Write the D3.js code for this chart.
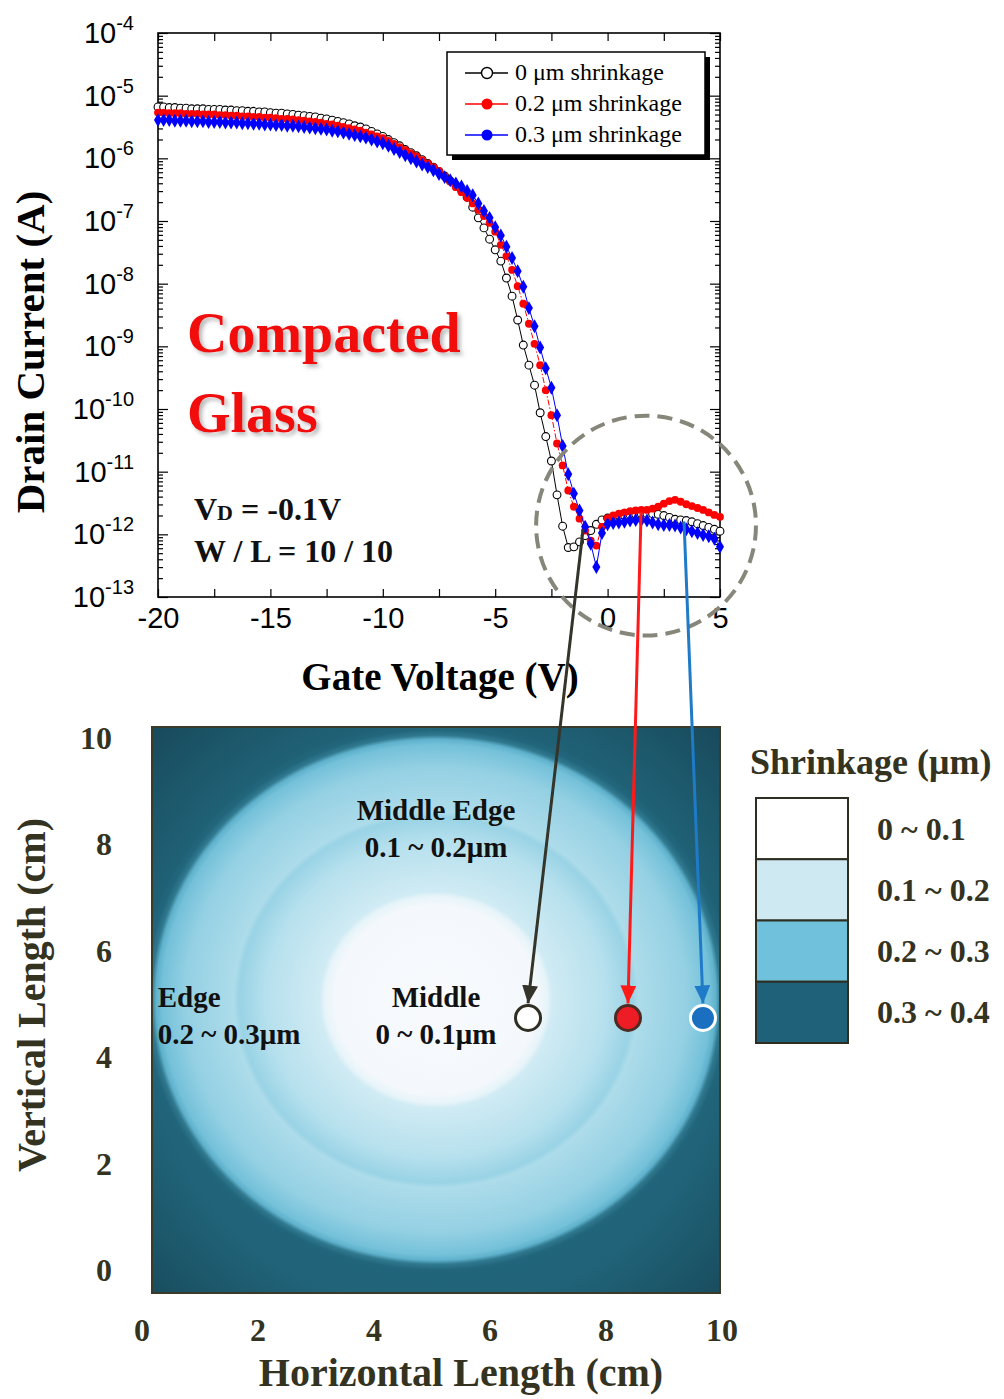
<!DOCTYPE html>
<html>
<head>
<meta charset="utf-8">
<script src="https://cdn.jsdelivr.net/npm/d3@7"></script>
<style>
  html, body { margin: 0; padding: 0; background: #fff; }
  svg { display: block; }
</style>
</head>
<body>
<svg id="fig" width="1004" height="1399"></svg>
<script>
// ---------------- transfer curves (Id–Vg) ----------------
const gateVoltage = [
  -20, -19.75, -19.5, -19.25, -19, -18.75, -18.5, -18.25, -18, -17.75,
  -17.5, -17.25, -17, -16.75, -16.5, -16.25, -16, -15.75, -15.5, -15.25,
  -15, -14.75, -14.5, -14.25, -14, -13.75, -13.5, -13.25, -13, -12.75,
  -12.5, -12.25, -12, -11.75, -11.5, -11.25, -11, -10.75, -10.5, -10.25,
  -10, -9.75, -9.5, -9.25, -9, -8.75, -8.5, -8.25, -8, -7.75,
  -7.5, -7.25, -7, -6.75, -6.5, -6.25, -6, -5.75, -5.5, -5.25,
  -5, -4.75, -4.5, -4.25, -4, -3.75, -3.5, -3.25, -3, -2.75,
  -2.5, -2.25, -2, -1.75, -1.5, -1.25, -1, -0.75, -0.5, -0.25,
  0, 0.25, 0.5, 0.75, 1, 1.25, 1.5, 1.75, 2, 2.25,
  2.5, 2.75, 3, 3.25, 3.5, 3.75, 4, 4.25, 4.5, 4.75, 5
];

// log10 of drain current (A)
const logIdShrink0 = [
  -5.18, -5.18, -5.19, -5.19, -5.20, -5.20, -5.21, -5.21, -5.21, -5.22,
  -5.22, -5.22, -5.23, -5.23, -5.24, -5.24, -5.25, -5.25, -5.26, -5.26,
  -5.27, -5.28, -5.28, -5.29, -5.30, -5.31, -5.32, -5.33, -5.34, -5.36,
  -5.37, -5.39, -5.41, -5.43, -5.45, -5.48, -5.50, -5.53, -5.57, -5.61,
  -5.65, -5.70, -5.75, -5.80, -5.86, -5.91, -5.96, -6.02, -6.08, -6.14,
  -6.21, -6.28, -6.36, -6.43, -6.51, -6.62, -6.78, -6.95, -7.11, -7.29,
  -7.46, -7.64, -7.91, -8.20, -8.58, -8.98, -9.30, -9.62, -10.06, -10.44,
  -10.83, -11.37, -11.87, -12.21, -12.20, -12.12, -12.02, -11.94, -11.84, -11.77,
  -11.74, -11.72, -11.70, -11.70, -11.69, -11.68, -11.67, -11.67, -11.67, -11.68,
  -11.70, -11.73, -11.76, -11.77, -11.78, -11.80, -11.83, -11.86, -11.89, -11.92, -11.95
];
const logIdShrink02 = [
  -5.27, -5.27, -5.28, -5.28, -5.28, -5.29, -5.29, -5.29, -5.30, -5.30,
  -5.30, -5.31, -5.31, -5.32, -5.32, -5.33, -5.33, -5.34, -5.34, -5.35,
  -5.35, -5.36, -5.37, -5.37, -5.38, -5.39, -5.40, -5.41, -5.42, -5.43,
  -5.45, -5.46, -5.48, -5.50, -5.52, -5.54, -5.56, -5.59, -5.62, -5.65,
  -5.68, -5.72, -5.77, -5.82, -5.87, -5.92, -5.97, -6.03, -6.08, -6.14,
  -6.20, -6.29, -6.37, -6.46, -6.54, -6.63, -6.72, -6.82, -6.92, -7.03,
  -7.17, -7.38, -7.56, -7.78, -8.04, -8.32, -8.64, -8.96, -9.30, -9.70,
  -10.10, -10.55, -10.90, -11.30, -11.56, -11.75, -11.94, -12.10, -12.18, -11.88,
  -11.74, -11.70, -11.67, -11.65, -11.63, -11.62, -11.61, -11.61, -11.59, -11.56,
  -11.51, -11.47, -11.45, -11.48, -11.52, -11.55, -11.58, -11.61, -11.65, -11.69, -11.72
];
const logIdShrink03 = [
  -5.39, -5.39, -5.39, -5.40, -5.40, -5.40, -5.41, -5.41, -5.41, -5.42,
  -5.42, -5.42, -5.43, -5.43, -5.43, -5.44, -5.44, -5.45, -5.45, -5.46,
  -5.46, -5.47, -5.47, -5.48, -5.48, -5.49, -5.50, -5.51, -5.52, -5.53,
  -5.54, -5.56, -5.57, -5.59, -5.61, -5.63, -5.65, -5.67, -5.70, -5.73,
  -5.76, -5.80, -5.85, -5.90, -5.95, -6.00, -6.05, -6.10, -6.14, -6.19,
  -6.25, -6.30, -6.35, -6.40, -6.45, -6.52, -6.59, -6.72, -6.84, -6.95,
  -7.10, -7.23, -7.41, -7.59, -7.80, -8.05, -8.39, -8.68, -9.02, -9.35,
  -9.66, -10.10, -10.59, -11.04, -11.35, -11.62, -11.88, -12.15, -12.52, -11.98,
  -11.84, -11.82, -11.81, -11.80, -11.78, -11.77, -11.77, -11.78, -11.81, -11.84,
  -11.85, -11.85, -11.86, -11.89, -11.92, -11.95, -11.98, -12.01, -12.03, -12.07, -12.20
];

const seriesNames = ["0 μm shrinkage", "0.2 μm shrinkage", "0.3 μm shrinkage"];
const currentDecades = [-13, -12, -11, -10, -9, -8, -7, -6, -5, -4];
const voltageTicks = [-20, -17.5, -15, -12.5, -10, -7.5, -5, -2.5, 0, 2.5, 5];
const voltageLabels = [-20, -15, -10, -5, 0, 5];

// ---------------- glass shrinkage map ----------------
const lengthTicks = [0, 2, 4, 6, 8, 10];
const waferCenterCm = [5.0, 5.18];
const zoneRadiiCm = [1.99, 3.52, 4.93];     // Middle | Middle Edge | Edge boundaries
const shrinkBins = ["0 ~ 0.1", "0.1 ~ 0.2", "0.2 ~ 0.3", "0.3 ~ 0.4"];
const zoneNames = [
  { title: "Middle Edge", range: "0.1 ~ 0.2μm", h: 5.0, v: 8.35, anchor: "middle" },
  { title: "Edge", range: "0.2 ~ 0.3μm", h: 0.1, v: 5.05, anchor: "start" },
  { title: "Middle", range: "0 ~ 0.1μm", h: 5.0, v: 5.05, anchor: "middle" }
];
// measured devices: point picked on the Id–Vg curve and its position on the glass
const probeSites = [
  { V: -1.09, I: 1.2e-12, h: 6.62, v: 4.86 },
  { V: 1.49, I: 2.3e-12, h: 8.38, v: 4.86 },
  { V: 3.40, I: 1.6e-12, h: 9.70, v: 4.86 }
];
const offRegion = { V: 1.71, I: 1.38e-12, radiusV: 4.89 };

// ---------------- styles ----------------
const SERIF = "'Liberation Serif','Times New Roman',serif";
const SANS = "'Liberation Sans',Arial,sans-serif";
const INK = "#33331f";
const seriesStyle = [
  { stroke: "#000", fill: "#fff", symbol: d3.symbolCircle, dash: null, mstroke: "#000" },
  { stroke: "#ff0000", fill: "#ff0000", symbol: d3.symbolCircle, dash: "6,2,1.5,2", mstroke: "none" },
  { stroke: "#0000ff", fill: "#0000ff", symbol: d3.symbolDiamond, dash: null, mstroke: "none" }
];
const probeStyle = [
  { line: "#34342a", fill: "#ffffff", stroke: "#2e2e22" },
  { line: "#ff1a1a", fill: "#ee1c24", stroke: "#4d2b22" },
  { line: "#1f7bc7", fill: "#1b6fc0", stroke: "#ffffff" }
];

const svg = d3.select("#fig");
const defs = svg.append("defs");

// ================= Id–Vg panel =================
const x = d3.scaleLinear().domain([-20, 5]).range([158, 720]);
const y = d3.scaleLog().domain([1e-13, 1e-4]).range([597, 33]);
const pTop = svg.append("g");

const minorCurrent = [];
currentDecades.slice(0, -1).forEach(e => {
  for (let m = 2; m <= 9; m++) minorCurrent.push(m * Math.pow(10, e));
});
const majorCurrent = currentDecades.map(e => Math.pow(10, e));

const tickStyle = g => {
  g.select(".domain").remove();
  g.selectAll(".tick line").attr("stroke", "#000").attr("stroke-width", 1.2);
};
[[d3.axisLeft, x(-20)], [d3.axisRight, x(5)]].forEach(([ax, px]) => {
  pTop.append("g").attr("transform", `translate(${px},0)`)
    .call(ax(y).tickValues(minorCurrent).tickSize(-5).tickFormat(""))
    .call(tickStyle);
  pTop.append("g").attr("transform", `translate(${px},0)`)
    .call(ax(y).tickValues(majorCurrent).tickSize(-10).tickFormat(""))
    .call(tickStyle);
});
pTop.append("g").attr("transform", `translate(0,${y(1e-4)})`)
  .call(d3.axisTop(x).tickValues(voltageTicks).tickSize(-8).tickFormat(""))
  .call(tickStyle);
const xAxisG = pTop.append("g").attr("transform", `translate(0,${y(1e-13)})`)
  .call(d3.axisBottom(x).tickValues(voltageTicks).tickSize(-8).tickPadding(10)
    .tickFormat(d => voltageLabels.includes(d) ? String(d) : ""))
  .call(tickStyle);
xAxisG.selectAll(".tick text")
  .attr("font-family", SANS).attr("font-size", 29).attr("fill", "#000");

// decade labels 10^n
majorCurrent.forEach((v, i) => {
  const t = pTop.append("text")
    .attr("x", 134).attr("y", y(v) + 10)
    .attr("text-anchor", "end")
    .attr("font-family", SANS).attr("fill", "#000");
  t.append("tspan").attr("font-size", 29).text("10");
  t.append("tspan").attr("font-size", 20).attr("dy", -13).text(String(currentDecades[i]));
});

// frame
pTop.append("rect")
  .attr("x", x(-20)).attr("y", y(1e-4))
  .attr("width", x(5) - x(-20)).attr("height", y(1e-13) - y(1e-4))
  .attr("fill", "none").attr("stroke", "#000").attr("stroke-width", 1.6);

// curves
const allSeries = [logIdShrink0, logIdShrink02, logIdShrink03];
const line = d3.line().x(d => x(d[0])).y(d => y(d[1]));
allSeries.forEach((vals, si) => {
  const st = seriesStyle[si];
  const pts = gateVoltage.map((v, i) => [v, Math.pow(10, vals[i])]);
  const g = pTop.append("g");
  g.append("path").attr("d", line(pts))
    .attr("fill", "none").attr("stroke", st.stroke).attr("stroke-width", 1)
    .attr("stroke-dasharray", st.dash);
  g.selectAll("path.m").data(pts).join("path").attr("class", "m")
    .attr("transform", d => `translate(${x(d[0])},${y(d[1])})`)
    .attr("d", d3.symbol(st.symbol, si === 2 ? 56 : 48))
    .attr("fill", st.fill).attr("stroke", st.mstroke).attr("stroke-width", 1.1);
});

// legend
const lg = pTop.append("g").attr("transform", "translate(447,52)");
lg.append("rect").attr("x", 5).attr("y", 5).attr("width", 258).attr("height", 103).attr("fill", "#000");
lg.append("rect").attr("width", 258).attr("height", 103).attr("fill", "#fff")
  .attr("stroke", "#000").attr("stroke-width", 1.5);
seriesNames.forEach((name, i) => {
  const st = seriesStyle[i];
  const ry = 21 + i * 31;
  lg.append("line").attr("x1", 18).attr("x2", 61).attr("y1", ry).attr("y2", ry)
    .attr("stroke", st.stroke).attr("stroke-width", 1.4);
  lg.append("path").attr("transform", `translate(40,${ry})`)
    .attr("d", d3.symbol(d3.symbolCircle, 95))
    .attr("fill", st.fill).attr("stroke", st.mstroke).attr("stroke-width", 1.4);
  lg.append("text").attr("x", 68).attr("y", ry + 7)
    .attr("font-family", SERIF).attr("font-size", 24).attr("fill", "#000").text(name);
});

// annotations
const shadow = defs.append("filter").attr("id", "txtShadow")
  .attr("x", "-10%").attr("y", "-10%").attr("width", "130%").attr("height", "140%");
shadow.append("feDropShadow").attr("dx", 3).attr("dy", 3).attr("stdDeviation", 2)
  .attr("flood-color", "#777").attr("flood-opacity", 0.55);
["Compacted", "Glass"].forEach((w, i) => {
  pTop.append("text").attr("x", 187).attr("y", 352 + i * 80)
    .attr("font-family", SERIF).attr("font-weight", "bold").attr("font-size", 56)
    .attr("fill", "#f20d0d").attr("filter", "url(#txtShadow)").text(w);
});
const vd = pTop.append("text").attr("x", 194).attr("y", 520)
  .attr("font-family", SERIF).attr("font-weight", "bold").attr("fill", "#111");
vd.append("tspan").attr("font-size", 32).text("V");
vd.append("tspan").attr("font-size", 22).text("D");
vd.append("tspan").attr("font-size", 32).text(" = -0.1V");
pTop.append("text").attr("x", 194).attr("y", 562)
  .attr("font-family", SERIF).attr("font-weight", "bold").attr("font-size", 32)
  .attr("fill", "#111").text("W / L = 10 / 10");

// axis titles
svg.append("text").attr("transform", "translate(44,352) rotate(-90)")
  .attr("text-anchor", "middle").attr("font-family", SERIF).attr("font-weight", "bold")
  .attr("font-size", 41).attr("fill", "#000").text("Drain Current (A)");
svg.append("text").attr("x", 440).attr("y", 690)
  .attr("text-anchor", "middle").attr("font-family", SERIF).attr("font-weight", "bold")
  .attr("font-size", 39).attr("fill", "#000").text("Gate Voltage (V)");

// off-current region
svg.append("ellipse")
  .attr("cx", x(offRegion.V)).attr("cy", y(offRegion.I))
  .attr("rx", x(offRegion.V + offRegion.radiusV) - x(offRegion.V))
  .attr("ry", x(offRegion.V + offRegion.radiusV) - x(offRegion.V))
  .attr("fill", "none").attr("stroke", "#86867a").attr("stroke-width", 4)
  .attr("stroke-dasharray", "15,8");

// ================= shrinkage map =================
const xm = d3.scaleLinear().domain([0, 10]).range([152, 720]);
const ym = d3.scaleLinear().domain([0, 10]).range([1293, 727]);
const xmLab = d3.scaleLinear().domain([0, 10]).range([142, 722]);
const ymLab = d3.scaleLinear().domain([0, 10]).range([1270, 738]);

const bgGrad = defs.append("radialGradient").attr("id", "glassBg")
  .attr("cx", 0.5).attr("cy", 0.52).attr("r", 0.72);
[[0, "#23697f"], [0.7, "#21647a"], [1, "#184a5b"]].forEach(([o, c]) =>
  bgGrad.append("stop").attr("offset", o).attr("stop-color", c));

const Rmax = 5.2;
const [f0, f1, f2] = zoneRadiiCm.map(r => r / Rmax);
const zoneGrad = defs.append("radialGradient").attr("id", "zones");
[
  [0, "#f8fafd"], [f0 - 0.04, "#f4f8fc"], [f0 - 0.005, "#e6f4f9"], [f0 + 0.012, "#d0ebf4"],
  [f1 - 0.10, "#b6e0ed"], [f1 - 0.012, "#99d3e5"], [f1 + 0.008, "#addcea"],
  [f2 - 0.10, "#94d0e3"], [f2 - 0.02, "#74c1d9"], [f2, "#5fb1cc"],
  [f2 + 0.015, "#30798f"], [f2 + 0.035, "#22667c"], [1, "#21647a"]
].forEach(([o, c]) => zoneGrad.append("stop").attr("offset", o).attr("stop-color", c));

defs.append("clipPath").attr("id", "glassClip").append("rect")
  .attr("x", xm(0)).attr("y", ym(10)).attr("width", xm(10) - xm(0)).attr("height", ym(0) - ym(10));

const map = svg.append("g");
map.append("rect")
  .attr("x", xm(0)).attr("y", ym(10)).attr("width", xm(10) - xm(0)).attr("height", ym(0) - ym(10))
  .attr("fill", "url(#glassBg)");
const rxPx = xm(Rmax) - xm(0);
map.append("ellipse").attr("clip-path", "url(#glassClip)")
  .attr("cx", xm(waferCenterCm[0])).attr("cy", ym(waferCenterCm[1]))
  .attr("rx", rxPx).attr("ry", rxPx * 0.93)
  .attr("fill", "url(#zones)");
map.append("rect")
  .attr("x", xm(0)).attr("y", ym(10)).attr("width", xm(10) - xm(0)).attr("height", ym(0) - ym(10))
  .attr("fill", "none").attr("stroke", "#3b3b2b").attr("stroke-width", 2);

// tick labels
lengthTicks.forEach(t => {
  map.append("text").attr("x", xmLab(t)).attr("y", 1341).attr("text-anchor", "middle")
    .attr("font-family", SERIF).attr("font-weight", "bold").attr("font-size", 32)
    .attr("fill", INK).text(t);
  map.append("text").attr("x", 112).attr("y", ymLab(t) + 11).attr("text-anchor", "end")
    .attr("font-family", SERIF).attr("font-weight", "bold").attr("font-size", 32)
    .attr("fill", INK).text(t);
});
svg.append("text").attr("transform", "translate(45,995) rotate(-90)")
  .attr("text-anchor", "middle").attr("font-family", SERIF).attr("font-weight", "bold")
  .attr("font-size", 40).attr("fill", INK).text("Vertical Length (cm)");
svg.append("text").attr("x", 461).attr("y", 1386)
  .attr("text-anchor", "middle").attr("font-family", SERIF).attr("font-weight", "bold")
  .attr("font-size", 40).attr("fill", INK).text("Horizontal Length (cm)");

// zone labels
zoneNames.forEach(z => {
  [z.title, z.range].forEach((s, k) => {
    map.append("text").attr("x", xm(z.h)).attr("y", ym(z.v) + k * 37)
      .attr("text-anchor", z.anchor).attr("font-family", SERIF).attr("font-weight", "bold")
      .attr("font-size", 29).attr("fill", "#111").text(s);
  });
});

// shrinkage legend
const legendColors = ["#ffffff", "#cfe9f3", "#6fc1dc", "#1f6178"];
const lgm = svg.append("g");
lgm.append("text").attr("x", 750).attr("y", 774)
  .attr("font-family", SERIF).attr("font-weight", "bold").attr("font-size", 36)
  .attr("fill", INK).text("Shrinkage (μm)");
const boxH = (1043 - 798) / shrinkBins.length;
shrinkBins.forEach((b, i) => {
  lgm.append("rect").attr("x", 756).attr("y", 798 + i * boxH)
    .attr("width", 92).attr("height", boxH)
    .attr("fill", legendColors[i]).attr("stroke", "#2e2e22").attr("stroke-width", 2);
  lgm.append("text").attr("x", 877).attr("y", 798 + i * boxH + boxH / 2 + 11)
    .attr("font-family", SERIF).attr("font-weight", "bold").attr("font-size", 32)
    .attr("fill", INK).text(b);
});

// ================= probe arrows =================
const probeR = 12.5;
probeSites.forEach((p, i) => {
  const st = probeStyle[i];
  defs.append("marker").attr("id", "head" + i)
    .attr("markerUnits", "userSpaceOnUse").attr("viewBox", "0 0 18 16")
    .attr("markerWidth", 18).attr("markerHeight", 16)
    .attr("refX", 18).attr("refY", 8).attr("orient", "auto")
    .append("path").attr("d", "M0,0 L18,8 L0,16 Z").attr("fill", st.line);
  svg.append("line")
    .attr("x1", x(p.V)).attr("y1", y(p.I))
    .attr("x2", xm(p.h)).attr("y2", ym(p.v) - probeR - 2)
    .attr("stroke", st.line).attr("stroke-width", 3)
    .attr("marker-end", `url(#head${i})`);
});
probeSites.forEach((p, i) => {
  const st = probeStyle[i];
  svg.append("circle").attr("cx", xm(p.h)).attr("cy", ym(p.v)).attr("r", probeR)
    .attr("fill", st.fill).attr("stroke", st.stroke).attr("stroke-width", 3);
});
</script>
</body>
</html>
